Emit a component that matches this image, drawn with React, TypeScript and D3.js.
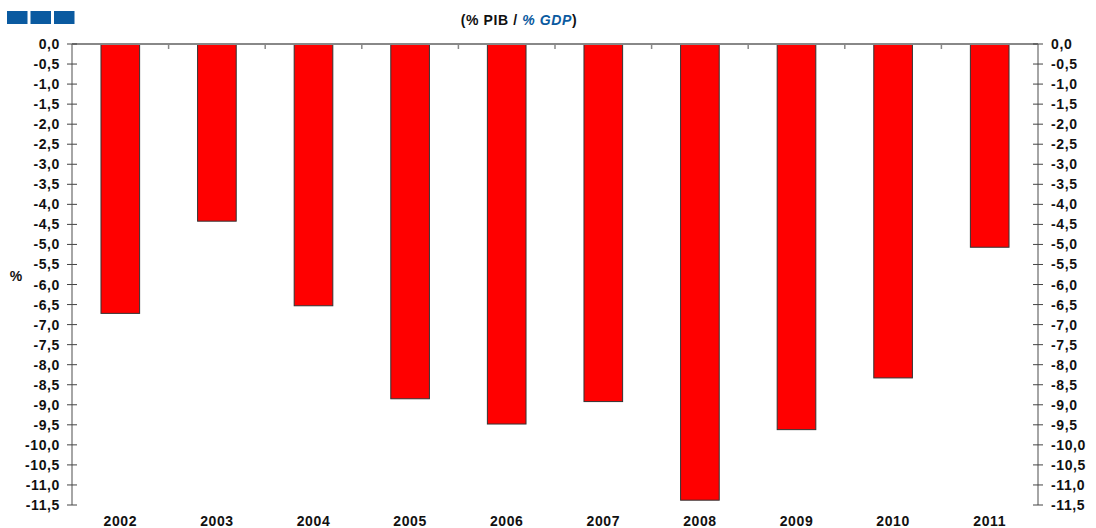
import React from "react";
import * as d3 from "d3";

const years = ["2002", "2003", "2004", "2005", "2006", "2007", "2008", "2009", "2010", "2011"];
const values = [-6.72, -4.42, -6.53, -8.85, -9.48, -8.92, -11.38, -9.62, -8.33, -5.07];
const tickValues = d3.range(0, -11.51, -0.5);

const W = 1096;
const H = 528;
const left = 72;
const right = 1038;
const top = 44;
const bottom = 505;

export default function App() {
  const x = d3.scaleBand<string>().domain(years).range([left, right]).paddingInner(0).paddingOuter(0);
  const y = d3.scaleLinear().domain([0, -11.5]).range([top, bottom]);
  const fmt = (v: number) => (Math.abs(v) < 1e-9 ? "0,0" : d3.format(".1f")(v).replace(".", ",").replace("−", "-"));
  const barW = x.bandwidth() * 0.4;
  const font = "'Liberation Sans', Arial, sans-serif";
  return (
    <svg width={W} height={H} style={{ position: "absolute", left: 0, top: 0, background: "#fff" }} fontFamily={font}>
      {[0, 1, 2].map((i) => (
        <rect key={i} x={7 + i * 23.5} y={11} width={20.5} height={13} fill="#0a5aa0" />
      ))}
      <text x={519} y={25} textAnchor="middle" fontSize={14} letterSpacing={0.6} fontWeight="bold" fill="#111">
        (% PIB / <tspan fill="#0a5aa0" fontStyle="italic">% GDP</tspan>)
      </text>
      {years.map((yr, i) => (
        <rect
          key={yr}
          x={(x(yr) as number) + (x.bandwidth() - barW) / 2}
          y={y(0)}
          width={barW}
          height={y(values[i]) - y(0)}
          fill="#ff0000"
          stroke="#333"
          strokeWidth={1}
        />
      ))}
      <line x1={left} x2={right} y1={top} y2={top} stroke="#888" strokeWidth={2} />
      {years.slice(1).map((yr) => (
        <line key={yr} x1={x(yr) as number} x2={x(yr) as number} y1={top} y2={top + 5} stroke="#888" strokeWidth={1.5} />
      ))}
      <line x1={left} x2={left} y1={top} y2={bottom} stroke="#888" strokeWidth={1.5} />
      <line x1={right} x2={right} y1={top} y2={bottom} stroke="#888" strokeWidth={1.5} />
      {tickValues.map((t) => (
        <g key={t}>
          <line x1={left - 5} x2={left + 5} y1={y(t)} y2={y(t)} stroke="#444" strokeWidth={1} />
          <line x1={right - 5} x2={right + 5} y1={y(t)} y2={y(t)} stroke="#444" strokeWidth={1} />
          <text x={left - 12} y={y(t) + 5} textAnchor="end" fontSize={14} letterSpacing={0.6} fontWeight="bold" fill="#111">
            {fmt(t)}
          </text>
          <text x={right + 13} y={y(t) + 5} textAnchor="start" fontSize={14} letterSpacing={0.6} fontWeight="bold" fill="#111">
            {fmt(t)}
          </text>
        </g>
      ))}
      {years.map((yr) => (
        <text key={yr} x={(x(yr) as number) + x.bandwidth() / 2} y={526} textAnchor="middle" fontSize={14} letterSpacing={0.6} fontWeight="bold" fill="#111">
          {yr}
        </text>
      ))}
      <text x={16} y={281} textAnchor="middle" fontSize={14} fontWeight="bold" fill="#111">%</text>
    </svg>
  );
}
